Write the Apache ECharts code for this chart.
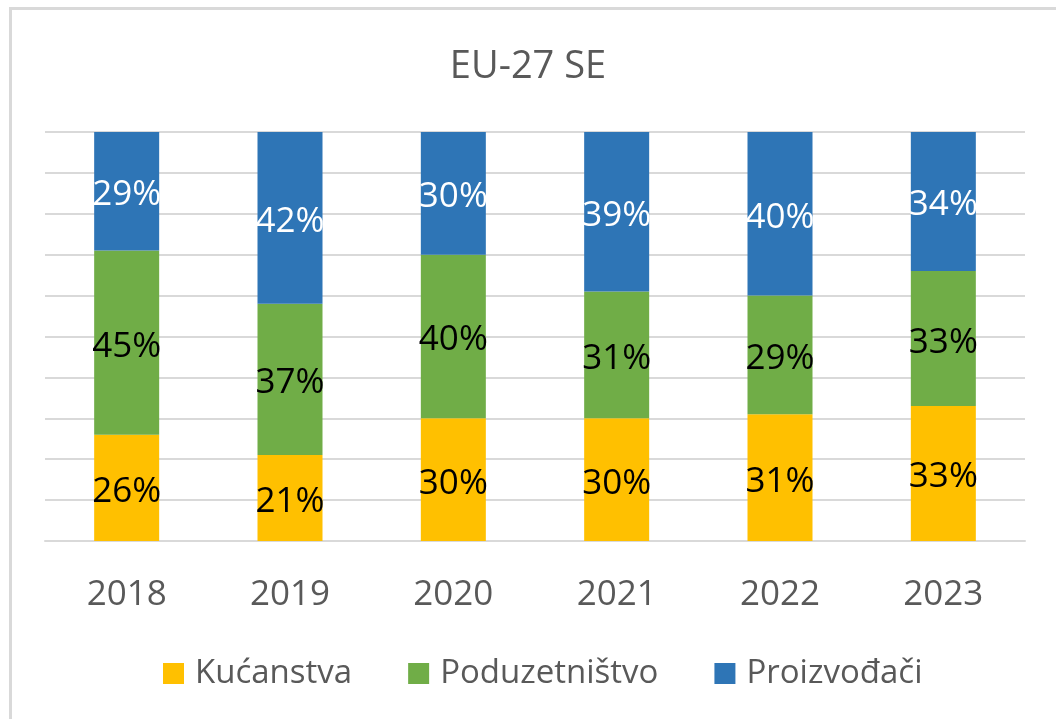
<!DOCTYPE html>
<html>
<head>
<meta charset="utf-8">
<script src="https://cdn.jsdelivr.net/npm/echarts@6/dist/echarts.min.js"></script>
<style>
html,body{margin:0;padding:0;background:#fff;}
#wrap{position:relative;width:1056px;height:719px;overflow:hidden;}
#chart{position:absolute;left:0;top:0;width:1056px;height:719px;}
#frame{position:absolute;left:9px;top:7px;width:1100px;height:800px;border-left:3px solid #d9d9d9;border-top:3px solid #d9d9d9;pointer-events:none;}
</style>
</head>
<body>
<div id="wrap"><div id="chart"></div><div id="frame"></div></div>
<script>
const title = 'EU-27 SE';
const categories = ['2018','2019','2020','2021','2022','2023'];
const kucanstva = [26,21,30,30,31,33];
const poduzetnistvo = [45,37,40,31,29,33];
const proizvodaci = [29,42,30,39,40,34];
const seriesNames = ['Kućanstva','Poduzetništvo','Proizvođači'];

const FONT = '"Open Sans", "Noto Sans", sans-serif';
const chart = echarts.init(document.getElementById('chart'));
function bar(name, data, color, labelColor){
  return {
    name: name, type: 'bar', stack: 'total', data: data, barWidth: 65,
    itemStyle: {color: color},
    label: {show: true, position: 'inside', offset: [0, 4], formatter: '{c}%', color: labelColor,
            fontFamily: FONT, fontSize: 35},
    emphasis: {disabled: true}
  };
}
chart.setOption({
  animation: false,
  title: {text: title, left: 'center', top: 43,
          textStyle: {fontFamily: FONT, fontSize: 38, fontWeight: 'normal', color: '#595959'}},
  grid: {left: 45, right: 31, top: 132, bottom: 178},
  legend: {
    data: seriesNames, left: 158, top: 652, itemWidth: 21, itemHeight: 21, itemGap: 56,
    icon: 'rect',
    textStyle: {fontFamily: FONT, fontSize: 33, color: '#595959', padding: [0,0,0,6]}
  },
  xAxis: {
    type: 'category', data: categories,
    axisLine: {lineStyle: {color: '#d9d9d9', width: 2}},
    axisTick: {show: false},
    axisLabel: {fontFamily: FONT, fontSize: 35, color: '#595959', margin: 37}
  },
  yAxis: {
    type: 'value', min: 0, max: 100, interval: 10,
    axisLabel: {show: false}, axisLine: {show: false}, axisTick: {show: false},
    splitLine: {lineStyle: {color: '#d9d9d9', width: 2}}
  },
  series: [
    bar(seriesNames[0], kucanstva, '#FFC000', '#000000'),
    bar(seriesNames[1], poduzetnistvo, '#70AD47', '#000000'),
    bar(seriesNames[2], proizvodaci, '#2E75B6', '#ffffff')
  ]
});
</script>
</body>
</html>
